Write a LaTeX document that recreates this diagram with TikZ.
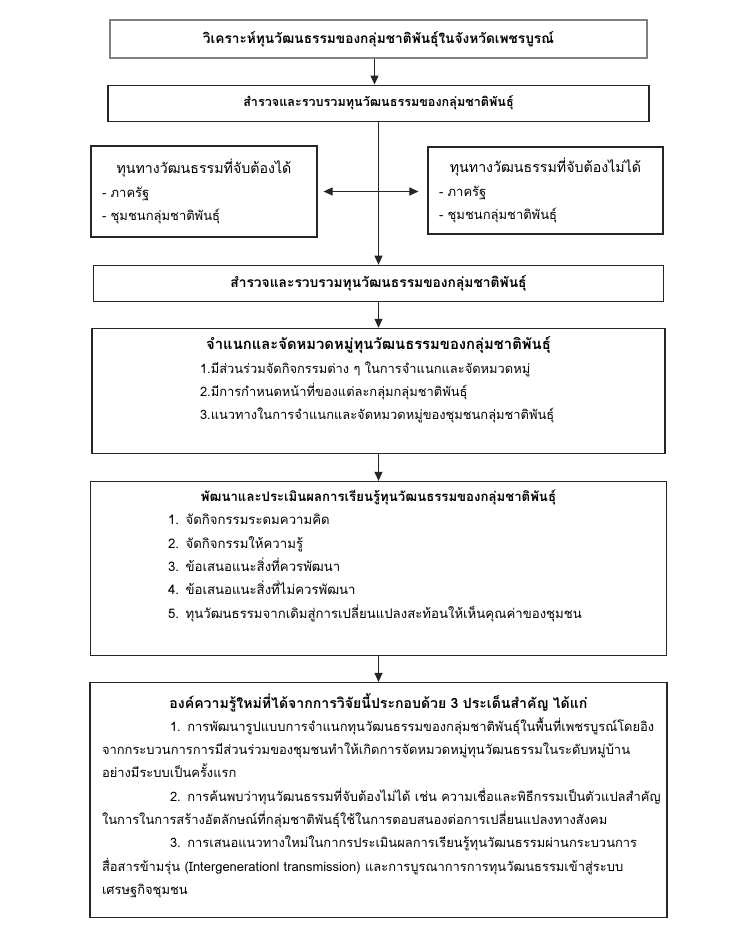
\documentclass[tikz,border=0pt]{standalone}
\usepackage{fontspec}
\setmainfont[Script=Thai]{Loma}
\usetikzlibrary{arrows.meta, positioning}
\newcommand{\thaisize}[1]{\fontsize{#1}{23.3}\selectfont}
\tikzset{
  box/.style={rectangle, draw=black!85, line width=1.1pt, align=center, inner sep=0pt},
  headbox/.style={box},
  sidebox/.style={box, align=left, inner xsep=11pt},
  bodytext/.style={align=left, text width=553pt, inner sep=0pt},
  flow/.style={-{Triangle[length=9pt, width=8pt]}, line width=1pt, draw=black!85},
  twoway/.style={{Triangle[length=9pt, width=8pt]}-{Triangle[length=9pt, width=8pt]}, line width=1pt, draw=black!85},
}

\begin{document}
\begin{tikzpicture}[x=1pt, y=-1pt, font=\thaisize{13}, node distance=26pt]
  \useasboundingbox (0,0) rectangle (748,931);

  % Main column
  \node[headbox, draw=black!50, minimum width=537pt, minimum height=38pt, font=\thaisize{13.7}\bfseries] (analyse) at (378.5,39) {วิเคราะห์ทุนวัฒนธรรมของกลุ่มชาติพันธุ์ในจังหวัดเพชรบูรณ์};
  \node[headbox, minimum width=541pt, minimum height=36pt, font=\thaisize{12.6}\bfseries, below=of analyse] (survey) {สำรวจและรวบรวมทุนวัฒนธรรมของกลุ่มชาติพันธุ์};
  \node[headbox, minimum width=570pt, minimum height=36pt, font=\thaisize{13.8}\bfseries, below=143pt of survey] (surveyagain) {สำรวจและรวบรวมทุนวัฒนธรรมของกลุ่มชาติพันธุ์};
  \node[box, minimum width=573pt, minimum height=125pt, below=of surveyagain] (classify) {};
  \node[box, minimum width=576pt, minimum height=174pt, below=27pt of classify] (develop) {};
  \node[box, minimum width=577pt, minimum height=235pt, below=of develop] (findings) {};

  % Two kinds of cultural capital
  \node[sidebox, minimum width=226pt, minimum height=91pt, text width=204pt] (tangible) at (204,191.5)
    {\makebox[\linewidth]{\thaisize{14.2}ทุนทางวัฒนธรรมที่จับต้องได้}\\- ภาครัฐ\\- ชุมชนกลุ่มชาติพันธุ์};
  \node[sidebox, minimum width=235pt, minimum height=87pt, text width=213pt] (intangible) at (545.5,190.5)
    {\makebox[\linewidth]{\thaisize{14.2}ทุนทางวัฒนธรรมที่จับต้องไม่ได้}\\- ภาครัฐ\\- ชุมชนกลุ่มชาติพันธุ์};

  % Texts of the large boxes
  \node[bodytext, below=9pt of classify.north, font=\thaisize{12.9}] (classifytext) {%
    \makebox[\linewidth]{\thaisize{14.8}\bfseries จำแนกและจัดหมวดหมู่ทุนวัฒนธรรมของกลุ่มชาติพันธุ์}\\
    \hspace*{98pt}1.มีส่วนร่วมจัดกิจกรรมต่าง ๆ ในการจำแนกและจัดหมวดหมู่\\
    \hspace*{98pt}2.มีการกำหนดหน้าที่ของแต่ละกลุ่มกลุ่มชาติพันธุ์\\
    \hspace*{98pt}3.แนวทางในการจำแนกและจัดหมวดหมู่ของชุมชนกลุ่มชาติพันธุ์};
  \node[bodytext, below=9pt of develop.north, font=\thaisize{13.2}] (developtext) {%
    \makebox[\linewidth]{\bfseries พัฒนาและประเมินผลการเรียนรู้ทุนวัฒนธรรมของกลุ่มชาติพันธุ์}\\
    \hspace*{66pt}1. จัดกิจกรรมระดมความคิด\\
    \hspace*{66pt}2. จัดกิจกรรมให้ความรู้\\
    \hspace*{66pt}3. ข้อเสนอแนะสิ่งที่ควรพัฒนา\\
    \hspace*{66pt}4. ข้อเสนอแนะสิ่งที่ไม่ควรพัฒนา\\
    \hspace*{66pt}5. ทุนวัฒนธรรมจากเดิมสู่การเปลี่ยนแปลงสะท้อนให้เห็นคุณค่าของชุมชน};
  \node[bodytext, below=11pt of findings.north, font=\thaisize{12.95}] (findingstext) {%
    \makebox[\linewidth]{\thaisize{14.1}\bfseries องค์ความรู้ใหม่ที่ได้จากการวิจัยนี้ประกอบด้วย 3 ประเด็นสำคัญ ได้แก่}\\
    \hspace*{68pt}\mbox{1. การพัฒนารูปแบบการจำแนกทุนวัฒนธรรมของกลุ่มชาติพันธุ์ในพื้นที่เพชรบูรณ์โดยอิง}\\
    \mbox{จากกระบวนการการมีส่วนร่วมของชุมชนทำให้เกิดการจัดหมวดหมู่ทุนวัฒนธรรมในระดับหมู่บ้าน}\\
    \mbox{อย่างมีระบบเป็นครั้งแรก}\\
    \hspace*{68pt}\mbox{2. การค้นพบว่าทุนวัฒนธรรมที่จับต้องไม่ได้ เช่น ความเชื่อและพิธีกรรมเป็นตัวแปลสำคัญ}\\
    \mbox{ในการในการสร้างอัตลักษณ์ที่กลุ่มชาติพันธุ์ใช้ในการตอบสนองต่อการเปลี่ยนแปลงทางสังคม}\\
    \hspace*{68pt}\mbox{3. การเสนอแนวทางใหม่ในกากรประเมินผลการเรียนรู้ทุนวัฒนธรรมผ่านกระบวนการ}\\
    \mbox{สื่อสารข้ามรุ่น (Intergenerationl transmission) และการบูรณาการการทุนวัฒนธรรมเข้าสู่ระบบ}\\
    \mbox{เศรษฐกิจชุมชน}};

  % Arrows
  \draw[flow] ([xshift=-4pt]analyse.south) -- ([xshift=-4pt]survey.north);
  \draw[flow] (survey) -- (surveyagain);
  \draw[twoway, shorten <=6pt, shorten >=9pt] (tangible.east) -- (tangible.east -| intangible.west);
  \draw[flow] (surveyagain) -- (classify);
  \draw[flow] (classify) -- (develop);
  \draw[flow] (develop) -- (findings);
\end{tikzpicture}
\end{document}
